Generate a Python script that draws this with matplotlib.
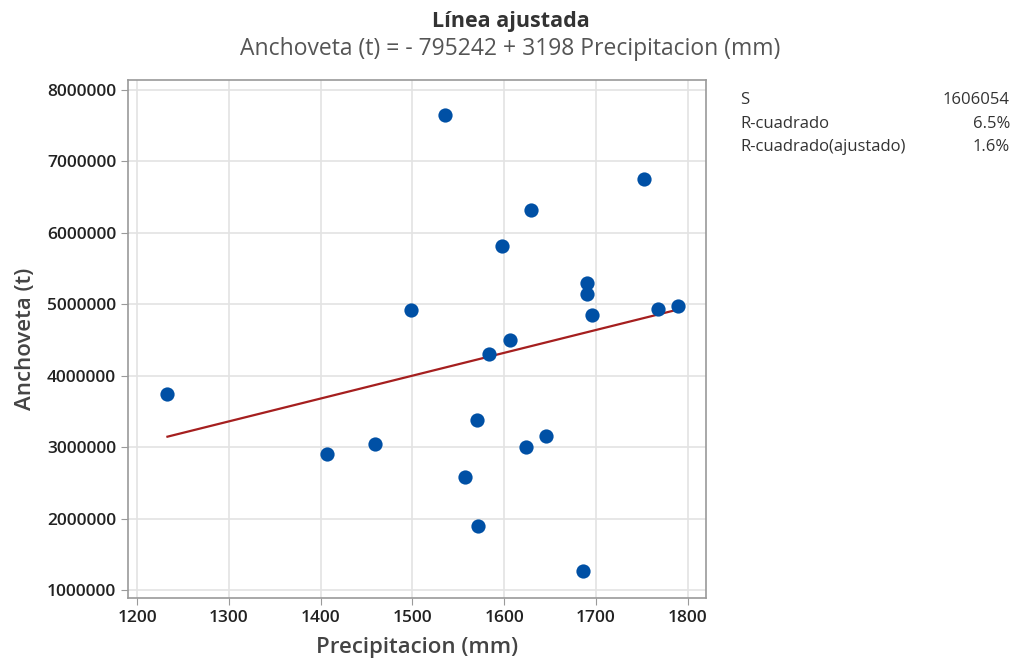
import matplotlib.pyplot as plt
import numpy as np

plt.rcParams['font.family'] = ['Open Sans', 'DejaVu Sans']

# Datos: precipitación (mm) vs captura de anchoveta (t)
precipitacion = [1233, 1606, 1583, 1407, 1459, 1570, 1624, 1646, 1557, 1572, 1686,
                 1535, 1752, 1629, 1598, 1690, 1690, 1498, 1696, 1768, 1789]
anchoveta = [3752000, 4495000, 4308000, 2907000, 3051000, 3383000, 3009000, 3159000,
             2579000, 1897000, 1262000, 7650000, 6748000, 6318000, 5818000, 5304000,
             5140000, 4916000, 4850000, 4935000, 4977000]

intercepto = -795242
pendiente = 3198
estadisticos = [("S", "1606054"), ("R-cuadrado", "6.5%"), ("R-cuadrado(ajustado)", "1.6%")]

xticks = list(range(1200, 1801, 100))
yticks = list(range(1000000, 8000001, 1000000))

fig = plt.figure(figsize=(10.15, 6.68), dpi=100)
ax = fig.add_axes([0.1261, 0.1048, 0.5695, 0.7754])

ax.scatter(precipitacion, anchoveta, s=105, color='#0050A5', zorder=3, linewidths=0)

# Línea ajustada
xl = np.array([min(precipitacion), max(precipitacion)])
ax.plot(xl, intercepto + pendiente * xl, color='#A51F1F', lw=1.6, zorder=2)

ax.set_xlim(1190, 1820)
ax.set_ylim(890000, 8140000)
ax.set_xticks(xticks)
ax.set_xticklabels([str(v) for v in xticks])
ax.set_yticks(yticks)
ax.set_yticklabels([str(v) for v in yticks])
ax.grid(color='#e3e3e3', lw=1.2)
ax.set_axisbelow(True)
for s in ax.spines.values():
    s.set_color('#9a9a9a')
    s.set_linewidth(1.2)
ax.tick_params(color='#9a9a9a', length=5, labelsize=12.5, labelcolor='#222222')
for lab in ax.get_xticklabels() + ax.get_yticklabels():
    lab.set_fontweight('semibold')

ax.set_xlabel("Precipitacion (mm)", fontsize=16, color='#444444', fontweight='semibold', labelpad=8)
ax.set_ylabel("Anchoveta (t)", fontsize=16, color='#444444', fontweight='semibold', labelpad=8)

fig.text(0.503, 0.968, "Línea ajustada", ha='center', va='center', fontsize=15.5,
         fontweight='bold', color='#333333')
fig.text(0.503, 0.927, "Anchoveta (t) = - 795242 + 3198 Precipitacion (mm)", ha='center',
         va='center', fontsize=16.5, color='#555555')

for i, (nombre, valor) in enumerate(estadisticos):
    y = 0.85 - i * 0.035
    fig.text(0.729, y, nombre, ha='left', va='center', fontsize=12, color='#333333')
    fig.text(0.995, y, valor, ha='right', va='center', fontsize=12, color='#333333')

fig.savefig("out.png", dpi=100)
